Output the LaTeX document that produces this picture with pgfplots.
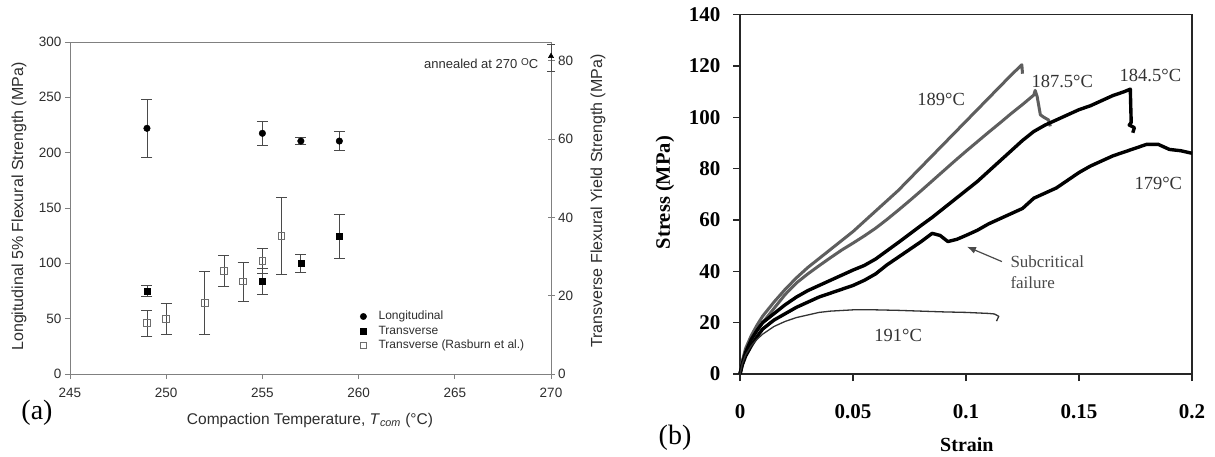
\documentclass[border=0pt]{standalone}
\usepackage{fontspec}
\setmainfont{Liberation Serif}
\newfontfamily\arialf{Liberation Sans}
\usepackage{pgfplots}
\usepackage{pgfplotstable}
\pgfplotsset{compat=1.18}
\usetikzlibrary{arrows.meta}
\definecolor{axgray}{HTML}{808080}
\definecolor{txtgray}{HTML}{2E2E2E}
\definecolor{errgray}{HTML}{4A4A4A}
\definecolor{opengray}{HTML}{6E6E6E}
\definecolor{curvegray}{HTML}{5E5E5E}
\definecolor{annotgray}{HTML}{4A4A4A}

% ---------- panel (a) data ----------
\pgfplotstableread{
x y ep em
249 222 26.5 26.5
255 217.5 10.5 10.5
257 210.5 3.3 3.3
259 210.5 8.6 8.6
}\longi
\pgfplotstableread{
x y ep em
249 21.2 1.4 1.4
255 23.7 3.4 3.4
257 28.3 2.3 2.3
259 35.1 5.7 5.7
}\trans
\pgfplotstableread{
x y ep em
249 13.0 3.3 3.3
250 14.1 4.0 4.0
252 18.2 8.0 8.0
253 26.3 3.9 3.9
254 23.6 5.0 5.0
255 28.9 3.2 3.2
256 35.3 9.9 9.9
}\rasb
\pgfplotstableread{
x y ep em
270 81.2 3.0 3.8
}\anneal

% ---------- panel (b) data ----------
\pgfplotstableread{
x y
0 0
0.001 5
0.0025 10
0.005 15
0.0075 19
0.01 22.5
0.015 28
0.02 33
0.025 37.5
0.03 41.5
0.035 45
0.04 48.5
0.045 52
0.05 55.5
0.055 59.5
0.06 63.5
0.065 67.5
0.07 71.5
0.075 76
0.08 80.5
0.085 85
0.09 89.5
0.095 94
0.1 98.5
0.105 103
0.11 107.5
0.115 112
0.12 116.5
0.1247 120.5
0.1250 117
}\cA
\pgfplotstableread{
x y
0 0
0.001 4.5
0.0025 9
0.005 13.5
0.0075 17
0.01 20
0.015 25.5
0.02 31
0.025 35.5
0.03 39
0.035 42.2
0.04 45.3
0.045 48.3
0.05 51
0.055 53.8
0.06 56.8
0.065 60.2
0.07 63.8
0.075 67.5
0.08 71.3
0.085 75.2
0.09 79.1
0.095 83
0.1 86.8
0.105 90.5
0.11 94.2
0.115 97.8
0.12 101.5
0.125 105
0.13 108.7
0.1306 110.5
0.1315 108
0.1329 101
0.1345 100
0.1365 99
0.1373 96.5
}\cB
\pgfplotstableread{
x y
0 0
0.001 4
0.0025 8.5
0.005 13.5
0.0075 17
0.01 20
0.015 23.5
0.02 27
0.025 30
0.03 32.5
0.035 34.5
0.04 36.5
0.045 38.5
0.05 40.5
0.055 42.3
0.06 44.8
0.065 48
0.07 51.2
0.075 54.5
0.08 57.8
0.085 61
0.09 64.5
0.095 68
0.1 71.5
0.105 75
0.11 79
0.115 83
0.12 87
0.125 91
0.13 94.5
0.135 97
0.14 99
0.145 101
0.15 103
0.155 104.5
0.16 106.5
0.165 108.5
0.17 110
0.1727 111
0.1729 104
0.1731 98
0.1722 97
0.1745 96
0.1738 94
}\cC
\pgfplotstableread{
x y
0 0
0.001 3.5
0.0025 7
0.005 11
0.0075 14.5
0.01 17.5
0.015 21
0.02 23.5
0.025 26
0.03 28
0.035 30
0.04 31.5
0.045 33
0.05 34.5
0.055 36.5
0.06 39
0.065 42.5
0.07 45.5
0.075 48.5
0.08 51.5
0.085 54.8
0.0885 54
0.092 51.6
0.096 52.5
0.1 54
0.105 56
0.11 58.5
0.115 60.5
0.12 62.5
0.125 64.5
0.13 68.5
0.135 70.5
0.14 72.5
0.145 75.5
0.15 78.5
0.155 81
0.16 83
0.165 85
0.17 86.5
0.175 88
0.18 89.5
0.185 89.5
0.19 87.5
0.195 87
0.2 86
}\cD
\pgfplotstableread{
x y
0 0
0.001 4
0.0025 7.5
0.005 11
0.0075 13.5
0.01 15.5
0.015 18.5
0.02 20.5
0.025 22
0.03 23
0.035 24
0.04 24.5
0.05 25
0.06 25
0.07 24.8
0.08 24.5
0.09 24.2
0.1 24
0.105 23.8
0.11 23.6
0.1125 23.4
0.1145 22.5
0.1135 20.6
}\cE

\begin{document}
\begin{tikzpicture}[x=1pt,y=1pt]
\useasboundingbox (0,0) rectangle (1215,456);
\fill[white] (0,0) rectangle (1215,456);

% ================= panel (a), left axis =================
\begin{axis}[at={(70pt,82pt)}, anchor=south west, scale only axis,
  width=481pt, height=332pt,
  xmin=245, xmax=270, ymin=0, ymax=300,
  xtick={245,250,...,270}, ytick={0,50,...,300},
  axis line style={axgray, line width=0.9pt},
  tick style={axgray, line width=0.8pt},
  tick align=outside, major tick length=5pt,
  xtick pos=bottom, ytick pos=left,
  /pgf/number format/assume math mode=true,
  ticklabel style={font=\arialf\fontsize{13.5}{16}\selectfont, text=txtgray},
  xticklabel style={yshift=-6pt},
  xlabel={Compaction Temperature, \textit{T}\textsubscript{\textit{com}} (°C)},
  xlabel style={font=\arialf\fontsize{15.5}{18}\selectfont, text=txtgray,
    at={(axis description cs:0.499,-0.1386)}, anchor=center},
  ylabel={Longitudinal 5\% Flexural Strength (MPa)},
  ylabel style={font=\arialf\fontsize{16}{18}\selectfont, text=txtgray,
    at={(axis description cs:-0.106,0.5045)}, anchor=center},
  clip=false]
\addplot[only marks, mark=*, mark size=3.3pt, black,
  error bars/.cd, y dir=both, y explicit,
  error bar style={line width=0.8pt, errgray},
  error mark options={rotate=90, line width=0.8pt, errgray, mark size=5.5pt}]
  table[x=x, y=y, y error plus=ep, y error minus=em] {\longi};
\end{axis}

% ================= panel (a), right axis =================
\begin{axis}[at={(70pt,82pt)}, anchor=south west, scale only axis,
  width=481pt, height=332pt,
  xmin=245, xmax=270, ymin=0, ymax=84.8,
  axis x line=none, axis y line*=right,
  ytick={0,20,...,80},
  axis line style={axgray, line width=0.9pt},
  tick style={axgray, line width=0.8pt},
  tick align=center, major tick length=7pt,
  /pgf/number format/assume math mode=true,
  ticklabel style={font=\arialf\fontsize{13.5}{16}\selectfont, text=txtgray},
  ylabel={Transverse Flexural Yield Strength (MPa)},
  ylabel style={font=\arialf\fontsize{16}{18}\selectfont, text=txtgray,
    at={(axis description cs:1.0977,0.521)}, anchor=center, rotate=0},
  legend style={draw=none, fill=none, at={(rel axis cs:0.5946,0.1994)},
    anchor=north west, font=\arialf\fontsize{12}{14}\selectfont, text=txtgray,
    row sep=1.5pt, nodes={inner sep=1pt, text height=8.5pt, text depth=2.5pt}},
  legend cell align=left,
  legend image code/.code={\path (-4pt,0pt) (14pt,0pt); \draw[#1] plot coordinates {(0pt,0pt)};},
  clip=false]
\addlegendimage{only marks, mark=*, mark size=3.2pt, black}
\addlegendentry{Longitudinal}
\addplot[only marks, mark=square*, mark size=3pt, black,
  error bars/.cd, y dir=both, y explicit,
  error bar style={line width=0.8pt, errgray},
  error mark options={rotate=90, line width=0.8pt, errgray, mark size=5.5pt}]
  table[x=x, y=y, y error plus=ep, y error minus=em] {\trans};
\addlegendentry{Transverse}
\addplot[only marks, mark=square, mark size=3.3pt, opengray,
  mark options={fill=white, line width=0.9pt},
  error bars/.cd, y dir=both, y explicit,
  error bar style={line width=0.8pt, errgray},
  error mark options={rotate=90, line width=0.8pt, errgray, mark size=5.5pt}]
  table[x=x, y=y, y error plus=ep, y error minus=em] {\rasb};
\addlegendentry{Transverse (Rasburn et al.)}
\addplot[only marks, mark=triangle*, mark size=3pt, black, forget plot,
  error bars/.cd, y dir=both, y explicit,
  error bar style={line width=0.8pt, errgray},
  error mark options={rotate=90, line width=0.8pt, errgray, mark size=4pt}]
  table[x=x, y=y, y error plus=ep, y error minus=em] {\anneal};
\node[anchor=east, font=\arialf\fontsize{13}{15}\selectfont, text=txtgray]
  at (rel axis cs:0.9807,0.9358) {annealed at 270 \raisebox{0.45ex}{\fontsize{10}{10}\selectfont O}C};
\end{axis}

% ================= panel (b) =================
\begin{axis}[at={(740pt,82pt)}, anchor=south west, scale only axis,
  width=452pt, height=359.3pt,
  xmin=0, xmax=0.2, ymin=0, ymax=140,
  xtick={0,0.05,0.1,0.15,0.2}, xticklabels={0,0.05,0.1,0.15,0.2},
  ytick={0,20,...,140},
  tick align=outside, major tick length=7pt,
  xtick pos=bottom, ytick pos=left,
  axis line style={black!85, line width=1.4pt},
  tick style={black!85, line width=1.2pt},
  /pgf/number format/assume math mode=true,
  ticklabel style={font=\bfseries\fontsize{21}{24}\selectfont},
  xticklabel style={yshift=-20pt},
  yticklabel style={xshift=-9pt},
  xlabel={Strain},
  xlabel style={font=\bfseries\fontsize{20}{22}\selectfont, inner sep=0pt,
    at={(axis description cs:0.502,-0.1955)}, anchor=center},
  ylabel={Stress (MPa)},
  ylabel style={font=\bfseries\fontsize{20.5}{22}\selectfont,
    at={(axis description cs:-0.166,0.505)}, anchor=center},
  clip=false]
\addplot[curvegray, line width=3pt, line join=round] table[x=x,y=y] {\cA};
\addplot[curvegray, line width=3pt, line join=round] table[x=x,y=y] {\cB};
\addplot[black, line width=3.4pt, line join=round] table[x=x,y=y] {\cC};
\addplot[black, line width=3.4pt, line join=round] table[x=x,y=y] {\cD};
\addplot[black!80, line width=1.3pt, line join=round] table[x=x,y=y] {\cE};
\node[font=\fontsize{18.5}{20}\selectfont, text=black!80] at (axis cs:0.089,106.8) {189°C};
\node[font=\fontsize{18.5}{20}\selectfont, text=black!80] at (axis cs:0.1426,113.8) {187.5°C};
\node[font=\fontsize{18.5}{20}\selectfont, text=black!80] at (axis cs:0.1816,116.5) {184.5°C};
\node[font=\fontsize{18.5}{20}\selectfont, text=black!80] at (axis cs:0.1851,74.4) {179°C};
\node[font=\fontsize{18.5}{20}\selectfont, text=black!80] at (axis cs:0.07,15.2) {191°C};
\draw[-{Latex[length=9pt,width=7pt]}, annotgray, line width=1.2pt]
  (axis cs:0.1159,43.8) -- (axis cs:0.1004,49.6);
\node[anchor=west, align=left, font=\fontsize{17}{21}\selectfont, text=annotgray, inner sep=0pt]
  at (axis cs:0.1196,39.7) {Subcritical\\failure};
\end{axis}

\node[font=\fontsize{28}{30}\selectfont] at (37,43) {(a)};
\node[font=\fontsize{28}{30}\selectfont] at (675,18) {(b)};
\end{tikzpicture}
\end{document}
